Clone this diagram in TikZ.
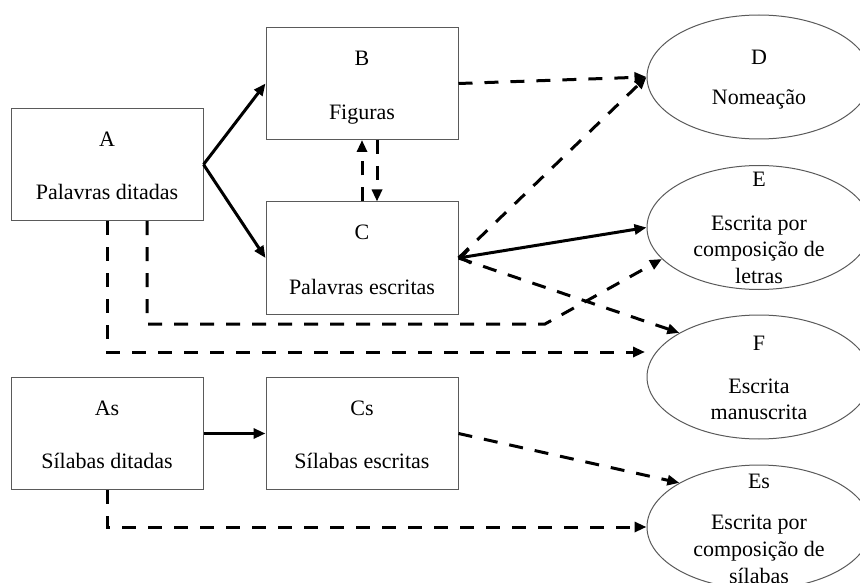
\documentclass[tikz,border=0pt]{standalone}
\usepackage{fontspec}
\setmainfont{Liberation Serif}
\usetikzlibrary{arrows.meta,shapes.geometric,calc}
\definecolor{boxgray}{HTML}{5A5A5A}
\begin{document}
\begin{tikzpicture}[x=1pt,y=-1pt,
  box/.style={draw=boxgray,line width=1pt,minimum width=192pt,minimum height=112pt,inner sep=0pt},
  oval/.style={draw=boxgray,line width=1pt,ellipse,minimum width=224pt,minimum height=124pt,inner sep=0pt},
  lbl/.style={anchor=base,inner sep=0pt,font=\fontsize{22}{27}\selectfont},
  tip/.style={-{Triangle[length=12pt,width=10pt]}},
  solidarrow/.style={line width=3pt,tip},
  dasharrow/.style={line width=3pt,dash pattern=on 14pt off 12pt,tip}
]
\useasboundingbox (0,0) rectangle (860,583);
\fill[white] (0,0) rectangle (860,583);
\clip (0,0) rectangle (860,583);

% boxes
\node[box] (A) at (107,164.5) {};
\node[box] (B) at (362,83.5) {};
\node[box] (C) at (362,258) {};
\node[box] (As) at (107,433.5) {};
\node[box] (Cs) at (362,433.5) {};
% ellipses
\node[oval] (D) at (759,77) {};
\node[oval] (E) at (759,227.5) {};
\node[oval] (F) at (759,377) {};
\node[oval] (Es) at (759,527) {};

% labels
\node[lbl] (tA1) at (107,147) {A};
\node[lbl] (tA2) at (107,200) {Palavras ditadas};
\node[lbl] (tB1) at (362,66) {B};
\node[lbl] (tB2) at (362,120) {Figuras};
\node[lbl] (tC1) at (362,240) {C};
\node[lbl] (tC2) at (362,294) {Palavras escritas};
\node[lbl] (tAs1) at (107,415) {As};
\node[lbl] (tAs2) at (107,468) {Sílabas ditadas};
\node[lbl] (tCs1) at (362,415) {Cs};
\node[lbl] (tCs2) at (362,468) {Sílabas escritas};
\node[lbl] (tD1) at (759,65) {D};
\node[lbl] (tD2) at (759,105) {Nomeação};
\node[lbl] (tE1) at (759,187) {E};
\node[lbl] (tE2) at (759,230) {Escrita por};
\node[lbl] (tE3) at (759,256) {composição de};
\node[lbl] (tE4) at (759,283) {letras};
\node[lbl] (tF1) at (759,350) {F};
\node[lbl] (tF2) at (759,393) {Escrita};
\node[lbl] (tF3) at (759,419) {manuscrita};
\node[lbl] (tEs1) at (759,488) {Es};
\node[lbl] (tEs2) at (759,529) {Escrita por};
\node[lbl] (tEs3) at (759,556) {composição de};
\node[lbl] (tEs4) at (759,583) {sílabas};

% helper coordinates
\coordinate (bendE) at (545,324);
\coordinate (tipF) at (645,352);

% connectors
\draw[solidarrow] (A.east) -- (B.west);
\draw[solidarrow] (A.east) -- (C.west);
\draw[dasharrow] (C.north) -- (B.south);
\draw[dasharrow] ([xshift=15pt]B.south) -- ([xshift=15pt]C.north);
\draw[dasharrow] (B.east) -- (D.west);
\draw[dasharrow] (C.east) -- (D.west);
\draw[line width=3pt,{Straight Barb[length=9pt,width=14pt]}-{Triangle[length=12pt,width=10pt]}] (C.east) -- (E.west);
\draw[dasharrow] (C.east) -- (F.151);
\draw[dasharrow] ([xshift=40pt]A.south) |- (bendE) -- (E.198);
\draw[dasharrow] (A.south) |- (tipF);
\draw[solidarrow] (As.east) -- (Cs.west);
\draw[dasharrow] (Cs.east) -- (Es.151);
\draw[dasharrow] (As.south) |- (Es.west);
\end{tikzpicture}
\end{document}
